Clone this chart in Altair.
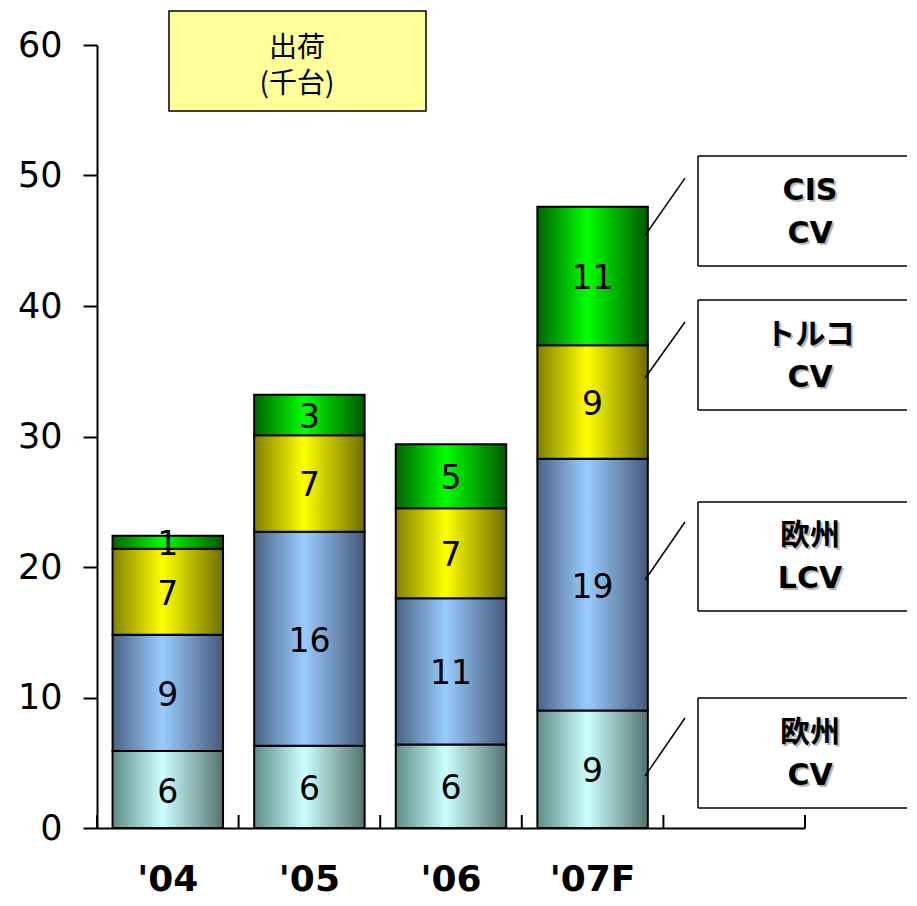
import altair as alt
import pandas as pd

# ---------------- data ----------------
years = ["'04", "'05", "'06", "'07F"]
x_domain = years + [" "]
series = ["欧州CV", "欧州LCV", "トルコCV", "CIS CV"]
eu_cv = [5.9, 6.3, 6.4, 9.0]
eu_lcv = [8.9, 16.4, 11.2, 19.3]
tr_cv = [6.6, 7.4, 6.9, 8.7]
cis_cv = [1.0, 3.1, 4.9, 10.6]
series_values = [eu_cv, eu_lcv, tr_cv, cis_cv]
y_ticks = [0, 10, 20, 30, 40, 50, 60]

# gradient colours per series: (edge, centre, edge)
grad_colors = [
    ("#5f8c87", "#ccffff", "#55736f"),
    ("#4a6385", "#99ccff", "#46597a"),
    ("#808000", "#ffff00", "#6e6e00"),
    ("#006400", "#00ff00", "#005a00"),
]

# annotation (legend) boxes, in data units of the y scale
legend_text = ["欧州\nCV", "欧州\nLCV", "トルコ\nCV", "CIS\nCV"]
legend_box_top = [9.96, 24.98, 40.46, 51.5]
legend_box_bottom = [1.53, 16.63, 32.03, 43.07]
legend_box_mid = [5.75, 20.84, 36.25, 47.3]
connector_from = [3.98, 19.0, 34.48, 45.4]
connector_to = [8.43, 23.45, 38.77, 49.8]

title_text = ["出荷\n(千台)"]
title_box_top = [62.6]
title_box_bottom = [54.94]
title_mid = [58.75]

# ---------------- frames ----------------
rows = []
for i, s in enumerate(series):
    for j, y in enumerate(years):
        v = series_values[i][j]
        rows.append({"year": y, "series": s, "order": i, "value": v,
                     "label": str(int(round(v)))})
df = pd.DataFrame(rows)

ann = pd.DataFrame({
    "text": legend_text, "bt": legend_box_top, "bb": legend_box_bottom,
    "bm": legend_box_mid, "c0": connector_from, "c1": connector_to,
})
tdf = pd.DataFrame({"text": title_text, "t": title_box_top,
                    "b": title_box_bottom, "m": title_mid})

W, H = 708, 783
xs = alt.Scale(domain=x_domain, paddingInner=0, paddingOuter=0)
ys = alt.Scale(domain=[0, 60], nice=False, zero=True)

x_axis = alt.Axis(ticks=False, domainColor="black", domainWidth=2,
                  labelFontSize=36, labelFontWeight="bold",
                  labelFont="DejaVu Sans", labelColor="black",
                  labelPadding=34, labelAngle=0, title=None, grid=False)
y_axis = alt.Axis(values=y_ticks, tickSize=14, tickWidth=2, tickColor="black",
                  domainColor="black", domainWidth=2, labelFontSize=35,
                  labelFont="DejaVu Sans", labelColor="black",
                  labelPadding=21, grid=False, title=None)


def X(field, **kw):
    return alt.X(field, scale=xs, axis=x_axis, **kw)


def Y(field):
    return alt.Y(field, scale=ys, axis=y_axis)


stack_kw = dict(stack="value", groupby=["year"], as_=["v0", "v1"],
                sort=[alt.SortField("order", order="ascending")])

layers = []
for i, s in enumerate(series):
    e, c, e2 = grad_colors[i]
    grad = alt.Gradient(
        gradient="linear", x1=0, x2=1, y1=0, y2=0,
        stops=[alt.GradientStop(color=e, offset=0),
               alt.GradientStop(color=c, offset=0.45),
               alt.GradientStop(color=e2, offset=1)])
    layers.append(
        alt.Chart(df)
        .transform_stack(**stack_kw)
        .transform_filter(alt.datum.series == s)
        .mark_bar(fill=grad, stroke="black", strokeWidth=2,
                  width=alt.RelativeBandSize(0.78))
        .encode(x=X("year:N"), y=Y("v0:Q"), y2="v1:Q")
    )

# value labels inside bars
layers.append(
    alt.Chart(df)
    .transform_stack(**stack_kw)
    .transform_calculate(mid="(datum.v0 + datum.v1) / 2")
    .mark_text(font="DejaVu Sans", fontSize=33, color="black",
               baseline="middle", align="center", dy=3)
    .encode(x=X("year:N"), y=Y("mid:Q"), text="label:N")
)

# inward x-axis ticks at band boundaries
layers.append(
    alt.Chart(pd.DataFrame({"year": x_domain}))
    .mark_rule(color="black", strokeWidth=2)
    .encode(x=X("year:N", bandPosition=0),
            y=alt.value(H), y2=alt.value(H - 13))
)
layers.append(
    alt.Chart(pd.DataFrame({"year": [x_domain[-1]]}))
    .mark_rule(color="black", strokeWidth=2)
    .encode(x=X("year:N", bandPosition=1),
            y=alt.value(H), y2=alt.value(H - 13))
)

# title box
layers.append(
    alt.Chart(tdf).mark_rect(fill="#ffff99", stroke="black", strokeWidth=1.5)
    .encode(x=alt.value(72), x2=alt.value(329), y=Y("t:Q"), y2="b:Q")
)
layers.append(
    alt.Chart(tdf).mark_text(font="Noto Sans CJK JP", fontSize=28,
                             color="black", lineBreak="\n", lineHeight=36,
                             baseline="middle", align="center", dy=-12)
    .encode(x=alt.value(200), y=Y("m:Q"), text="text:N")
)

# connectors
layers.append(
    alt.Chart(ann).mark_rule(color="black", strokeWidth=1.5)
    .encode(x=alt.value(548), x2=alt.value(588), y=Y("c0:Q"), y2="c1:Q")
)
# legend boxes (right side cut off by the page edge)
layers.append(
    alt.Chart(ann).mark_rule(color="black", strokeWidth=1.5)
    .encode(x=alt.value(601), y=Y("bt:Q"), y2="bb:Q")
)
layers.append(
    alt.Chart(ann).mark_rule(color="black", strokeWidth=1.5)
    .encode(x=alt.value(601), x2=alt.value(810), y=Y("bt:Q"))
)
layers.append(
    alt.Chart(ann).mark_rule(color="black", strokeWidth=1.5)
    .encode(x=alt.value(601), x2=alt.value(810), y=Y("bb:Q"))
)
# legend text shadow + text
for col, off in (("#b8b8b8", 2), ("black", 0)):
    layers.append(
        alt.Chart(ann).mark_text(font="DejaVu Sans, Noto Sans CJK JP",
                                 fontSize=30, fontWeight="bold", color=col,
                                 lineBreak="\n", lineHeight=43,
                                 baseline="middle", align="center",
                                 dx=off, dy=-20 + off)
        .encode(x=alt.value(713), y=Y("bm:Q"), text="text:N")
    )

chart = (
    alt.layer(*layers)
    .properties(width=W, height=H,
                padding={"left": 9, "top": 2, "right": 0, "bottom": 0})
    .configure_view(stroke=None)
)

chart.save("out.html", embed_options={"renderer": "svg", "actions": False})
